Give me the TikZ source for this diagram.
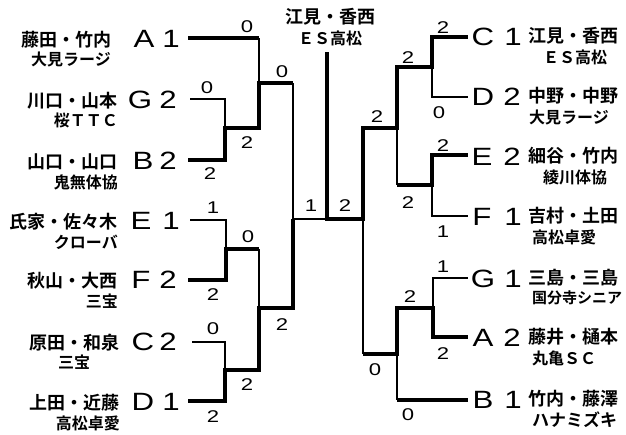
\documentclass[tikz,border=0pt]{standalone}
\usepackage{fontspec}
\usepackage{graphicx}
\setmainfont{Liberation Sans}
\newfontfamily\cjk{Noto Sans CJK JP Bold}
\newcommand\xwide[2]{\scalebox{#1}[1]{#2}}
\tikzset{
  win/.style={line width=4.6pt, line join=miter},
  lose/.style={line width=1.1pt, line join=miter},
  nm/.style={font=\cjk\fontsize{18}{18}\selectfont, inner sep=0pt},
  sub/.style={font=\cjk\fontsize{16}{16}\selectfont, inner sep=0pt},
  letr/.style={font=\fontsize{25}{25}\selectfont, inner sep=0pt},
  sc/.style={font=\fontsize{17}{17}\selectfont, inner sep=0pt}
}
\begin{document}
\begin{tikzpicture}[x=1pt,y=-1pt]
\useasboundingbox (0,0) rectangle (626,434);
% ---------- coordinates (left half)
\coordinate (lA) at (188,38);  \coordinate (lAj) at (259,38);
\coordinate (lG) at (190,99);  \coordinate (lGj) at (225,99);
\coordinate (lB) at (188,160); \coordinate (lBj) at (225,160);
\coordinate (lGB) at (225,128); \coordinate (lGBr) at (259,128);
\coordinate (lAB) at (259,83); \coordinate (lABr) at (293,83);
\coordinate (lE) at (190,220); \coordinate (lEj) at (226,220);
\coordinate (lF) at (188,280); \coordinate (lFj) at (226,280);
\coordinate (lEF) at (226,249); \coordinate (lEFr) at (259,249);
\coordinate (lC) at (192,342); \coordinate (lCj) at (225,342);
\coordinate (lD) at (188,401); \coordinate (lDj) at (225,401);
\coordinate (lCD) at (225,370); \coordinate (lCDr) at (259,370);
\coordinate (lFD) at (259,308); \coordinate (lFDr) at (293,308);
\coordinate (lfin) at (293,219); \coordinate (cfin) at (327,219);
\coordinate (champ) at (327,52);
% ---------- coordinates (right half)
\coordinate (rfin) at (363,219);
\coordinate (rCE) at (363,128); \coordinate (rCEr) at (397,128);
\coordinate (rCD) at (397,67); \coordinate (rCDr) at (432,67);
\coordinate (rCj) at (432,37); \coordinate (rC) at (468,37);
\coordinate (rDj) at (432,97); \coordinate (rD) at (468,97);
\coordinate (rEFl) at (397,185); \coordinate (rEF) at (432,185);
\coordinate (rEj) at (432,155); \coordinate (rE) at (468,155);
\coordinate (rFj) at (432,216); \coordinate (rF) at (468,216);
\coordinate (rAB) at (363,354); \coordinate (rABr) at (397,354);
\coordinate (rGAl) at (397,308); \coordinate (rGA) at (433,308);
\coordinate (rAj) at (433,337); \coordinate (rA) at (468,337);
\coordinate (rGj) at (433,278); \coordinate (rG) at (468,278);
\coordinate (rBj) at (397,400); \coordinate (rB) at (468,400);
% ---------- bracket lines
\draw[lose] (lAj) -- (lAB);
\draw[lose] (lG) -- (lGj) -- (lGB);
\draw[win] (lA) -- (lAj);
\draw[win] (lB) -- (lBj) -- (lGB) -- (lGBr) -- (lAB) -- (lABr);
\draw[lose] (lABr) -- (lfin) -- (cfin);
\draw[lose] (lE) -- (lEj) -- (lEF);
\draw[lose] (lEFr) -- (lFD);
\draw[win] (lF) -- (lFj) -- (lEF) -- (lEFr);
\draw[lose] (lC) -- (lCj) -- (lCD);
\draw[win] (lD) -- (lDj) -- (lCD) -- (lCDr) -- (lFD) -- (lFDr) -- (lfin);
\draw[lose] (rCDr) -- (rDj) -- (rD);
\draw[lose] (rCEr) -- (rEFl);
\draw[lose] (rEF) -- (rFj) -- (rF);
\draw[lose] (rfin) -- (rAB);
\draw[lose] (rGA) -- (rGj) -- (rG);
\draw[lose] (rABr) -- (rBj);
\draw[win] (champ) -- (cfin) -- (rfin) -- (rCE) -- (rCEr) -- (rCD) -- (rCDr) -- (rCj) -- (rC);
\draw[win] (rEFl) -- (rEF) -- (rEj) -- (rE);
\draw[win] (rAB) -- (rABr) -- (rGAl) -- (rGA) -- (rAj) -- (rA);
\draw[win] (rBj) -- (rB);
% ---------- champion
\node[nm] (ch1) at (330,17) {江見・香西};
\node[sub] (ch2) at (330,38) {ＥＳ高松};
% ---------- left entries
\node[nm,anchor=east] (nA1) at (112,40) {藤田・竹内};
\node[sub,anchor=east] (nA2) at (111,59) {大見ラージ};
\node[letr] (kA) at (144,39) {\xwide{1.25}{A}};
\node[letr] (sA) at (171,39) {\xwide{1.25}{1}};
\node[nm,anchor=east] (nG1) at (118,101) {川口・山本};
\node[sub,anchor=east] (nG2) at (118,120) {桜ＴＴＣ};
\node[letr] (kG) at (140,100) {\xwide{1.25}{G}};
\node[letr] (sG) at (168,100) {\xwide{1.25}{2}};
\node[nm,anchor=east] (nB1) at (118,162) {山口・山口};
\node[sub,anchor=east] (nB2) at (118,182) {鬼無体協};
\node[letr] (kB) at (143,161) {\xwide{1.25}{B}};
\node[letr] (sB) at (168,161) {\xwide{1.25}{2}};
\node[nm,anchor=east] (nE1) at (118,222) {氏家・佐々木};
\node[sub,anchor=east] (nE2) at (118,242) {クローバ};
\node[letr] (kE) at (141,221) {\xwide{1.25}{E}};
\node[letr] (sE) at (171,221) {\xwide{1.25}{1}};
\node[nm,anchor=east] (nF1) at (118,281) {秋山・大西};
\node[sub,anchor=east] (nF2) at (118,301) {三宝};
\node[letr] (kF) at (141,280) {\xwide{1.25}{F}};
\node[letr] (sF) at (168,280) {\xwide{1.25}{2}};
\node[nm,anchor=east] (nC1) at (120,343) {原田・和泉};
\node[sub] (nC2) at (74,362) {三宝};
\node[letr] (kC) at (143,342) {\xwide{1.25}{C}};
\node[letr] (sC) at (168,342) {\xwide{1.25}{2}};
\node[nm,anchor=east] (nD1) at (120,403) {上田・近藤};
\node[sub,anchor=east] (nD2) at (120,423) {高松卓愛};
\node[letr] (kD) at (143,402) {\xwide{1.25}{D}};
\node[letr] (sD) at (171,402) {\xwide{1.25}{1}};
% ---------- right entries
\node[letr] (kRC) at (483,37) {\xwide{1.25}{C}};
\node[letr] (sRC) at (513,37) {\xwide{1.25}{1}};
\node[nm,anchor=west] (mC1) at (528,36) {江見・香西};
\node[sub] (mC2) at (575,57) {ＥＳ高松};
\node[letr] (kRD) at (483,97) {\xwide{1.25}{D}};
\node[letr] (sRD) at (512,97) {\xwide{1.25}{2}};
\node[nm,anchor=west] (mD1) at (528,96) {中野・中野};
\node[sub,anchor=west] (mD2) at (529,117) {大見ラージ};
\node[letr] (kRE) at (482,157) {\xwide{1.25}{E}};
\node[letr] (sRE) at (512,157) {\xwide{1.25}{2}};
\node[nm,anchor=west] (mE1) at (528,156) {細谷・竹内};
\node[sub] (mE2) at (575,177) {綾川体協};
\node[letr] (kRF) at (482,217) {\xwide{1.25}{F}};
\node[letr] (sRF) at (513,217) {\xwide{1.25}{1}};
\node[nm,anchor=west] (mF1) at (528,216) {吉村・土田};
\node[sub,anchor=west] (mF2) at (532,237) {高松卓愛};
\node[letr] (kRG) at (483,279) {\xwide{1.25}{G}};
\node[letr] (sRG) at (513,279) {\xwide{1.25}{1}};
\node[nm,anchor=west] (mG1) at (528,278) {三島・三島};
\node[sub,anchor=west,font=\cjk\fontsize{15}{15}\selectfont] (mG2) at (532,298) {国分寺シニア};
\node[letr] (kRA) at (483,338) {\xwide{1.25}{A}};
\node[letr] (sRA) at (512,338) {\xwide{1.25}{2}};
\node[nm,anchor=west] (mA1) at (528,337) {藤井・樋本};
\node[sub,anchor=west] (mA2) at (532,358) {丸亀ＳＣ};
\node[letr] (kRB) at (483,400) {\xwide{1.25}{B}};
\node[letr] (sRB) at (513,400) {\xwide{1.25}{1}};
\node[nm,anchor=west] (mB1) at (528,399) {竹内・藤澤};
\node[sub,anchor=west,font=\cjk\fontsize{17}{17}\selectfont] (mB2) at (532,420) {ハナミズキ};
% ---------- scores left
\node[sc] (p1) at (247,27) {\xwide{1.3}{0}};
\node[sc] (p2) at (282,72) {\xwide{1.3}{0}};
\node[sc] (p3) at (207,88) {\xwide{1.3}{0}};
\node[sc] (p4) at (247,143) {\xwide{1.3}{2}};
\node[sc] (p5) at (210,174) {\xwide{1.3}{2}};
\node[sc] (p6) at (213,208) {\xwide{1.3}{1}};
\node[sc] (p7) at (248,237) {\xwide{1.3}{0}};
\node[sc] (p8) at (213,295) {\xwide{1.3}{2}};
\node[sc] (p9) at (282,325) {\xwide{1.3}{2}};
\node[sc] (p10) at (213,329) {\xwide{1.3}{0}};
\node[sc] (p11) at (247,385) {\xwide{1.3}{2}};
\node[sc] (p12) at (213,417) {\xwide{1.3}{2}};
\node[sc] (p13) at (311,206) {\xwide{1.3}{1}};
\node[sc] (p14) at (345,206) {\xwide{1.3}{2}};
% ---------- scores right
\node[sc] (q1) at (443,28) {\xwide{1.3}{2}};
\node[sc] (q2) at (408,58) {\xwide{1.3}{2}};
\node[sc] (q3) at (439,113) {\xwide{1.3}{0}};
\node[sc] (q4) at (377,117) {\xwide{1.3}{2}};
\node[sc] (q5) at (443,146) {\xwide{1.3}{2}};
\node[sc] (q6) at (408,203) {\xwide{1.3}{2}};
\node[sc] (q7) at (443,232) {\xwide{1.3}{1}};
\node[sc] (q8) at (443,267) {\xwide{1.3}{1}};
\node[sc] (q9) at (410,297) {\xwide{1.3}{2}};
\node[sc] (q10) at (443,354) {\xwide{1.3}{2}};
\node[sc] (q11) at (375,370) {\xwide{1.3}{0}};
\node[sc] (q12) at (408,415) {\xwide{1.3}{0}};
\end{tikzpicture}
\end{document}
